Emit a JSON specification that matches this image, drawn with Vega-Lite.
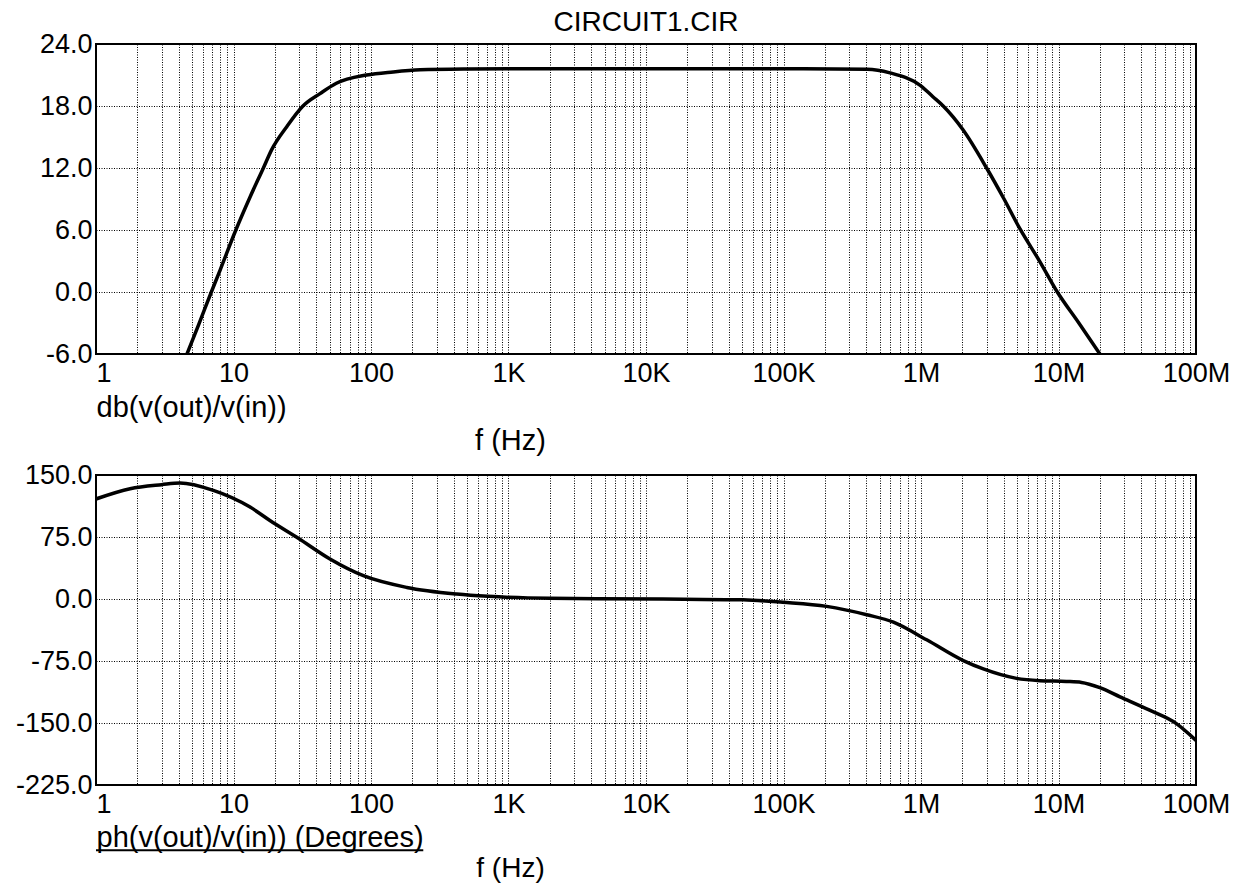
{
  "$schema": "https://vega.github.io/schema/vega-lite/v6.json",
  "background": "white",
  "padding": {"left": 14, "top": 8, "right": 5, "bottom": 0},
  "spacing": 4,
  "config": {
    "font": "Liberation Sans",
    "view": {"stroke": "#000", "strokeWidth": 2},
    "title": {"font": "Liberation Sans", "fontSize": 28, "fontWeight": "normal", "color": "#000"},
    "axis": {
      "labelFont": "Liberation Sans",
      "labelFontSize": 27,
      "labelColor": "#000",
      "titleFont": "Liberation Sans",
      "titleFontSize": 29,
      "titleFontWeight": "normal",
      "titleColor": "#000",
      "grid": true,
      "gridColor": "#000",
      "gridDash": [1, 1.5],
      "gridWidth": 1,
      "gridOpacity": 1,
      "ticks": false,
      "domain": false,
      "labelOverlap": false
    }
  },
  "datasets": {
    "gain": [
      {"f": 4.59, "db": -6.0},
      {"f": 5.6, "db": -3.1},
      {"f": 6.9, "db": 0.0},
      {"f": 7.98, "db": 2.1},
      {"f": 10.4, "db": 6.0},
      {"f": 13.2, "db": 9.2},
      {"f": 16.5, "db": 12.0},
      {"f": 19.0, "db": 13.8},
      {"f": 24.4, "db": 16.0},
      {"f": 32.0, "db": 18.0},
      {"f": 42.6, "db": 19.2},
      {"f": 56.0, "db": 20.2},
      {"f": 93.0, "db": 21.0},
      {"f": 145.0, "db": 21.3},
      {"f": 228.0, "db": 21.5},
      {"f": 500.0, "db": 21.58},
      {"f": 1000.0, "db": 21.6},
      {"f": 10000.0, "db": 21.6},
      {"f": 100000.0, "db": 21.6},
      {"f": 405000.0, "db": 21.55},
      {"f": 595000.0, "db": 21.2},
      {"f": 987000.0, "db": 20.0},
      {"f": 1220000.0, "db": 18.9},
      {"f": 1450000.0, "db": 18.0},
      {"f": 2020000.0, "db": 15.7},
      {"f": 3000000.0, "db": 12.0},
      {"f": 3980000.0, "db": 9.1},
      {"f": 5250000.0, "db": 6.1},
      {"f": 7350000.0, "db": 2.9},
      {"f": 9800000.0, "db": 0.0},
      {"f": 13900000.0, "db": -2.9},
      {"f": 20000000.0, "db": -6.0}
    ],
    "phase": [
      {"f": 1.0, "ph": 121.0},
      {"f": 1.77, "ph": 133.4},
      {"f": 3.0, "ph": 138.3},
      {"f": 4.08, "ph": 140.3},
      {"f": 7.13, "ph": 131.4},
      {"f": 13.2, "ph": 111.2},
      {"f": 18.4, "ph": 95.0},
      {"f": 29.6, "ph": 73.5},
      {"f": 50.3, "ph": 48.4},
      {"f": 88.0, "ph": 28.2},
      {"f": 182.0, "ph": 14.0},
      {"f": 420.0, "ph": 6.0},
      {"f": 710.0, "ph": 3.2},
      {"f": 2000.0, "ph": 0.8},
      {"f": 13300.0, "ph": 0.0},
      {"f": 51000.0, "ph": -1.0},
      {"f": 99000.0, "ph": -4.0},
      {"f": 206000.0, "ph": -8.9},
      {"f": 403000.0, "ph": -19.0},
      {"f": 630000.0, "ph": -28.0},
      {"f": 1100000.0, "ph": -49.4},
      {"f": 2030000.0, "ph": -74.5},
      {"f": 2840000.0, "ph": -84.6},
      {"f": 4950000.0, "ph": -96.0},
      {"f": 7330000.0, "ph": -98.8},
      {"f": 11400000.0, "ph": -99.7},
      {"f": 14700000.0, "ph": -100.9},
      {"f": 20000000.0, "ph": -107.3},
      {"f": 28000000.0, "ph": -118.3},
      {"f": 46000000.0, "ph": -134.5},
      {"f": 72000000.0, "ph": -150.7},
      {"f": 100000000.0, "ph": -171.0}
    ]
  },
  "vconcat": [
    {
      "width": 1100,
      "height": 310,
      "title": {"text": "CIRCUIT1.CIR", "anchor": "middle", "frame": "group", "offset": -7},
      "data": {"name": "gain"},
      "mark": {"type": "line", "color": "#000", "strokeWidth": 3.5, "interpolate": "monotone", "clip": true},
      "encoding": {
        "x": {
          "field": "f",
          "type": "quantitative",
          "scale": {"type": "log", "domain": [1, 100000000], "nice": false},
          "axis": {
            "values": [1, 2, 3, 4, 5, 6, 7, 8, 9, 10, 20, 30, 40, 50, 60, 70, 80, 90, 100, 200, 300, 400, 500, 600, 700, 800, 900, 1000, 2000, 3000, 4000, 5000, 6000, 7000, 8000, 9000, 10000, 20000, 30000, 40000, 50000, 60000, 70000, 80000, 90000, 100000, 200000, 300000, 400000, 500000, 600000, 700000, 800000, 900000, 1000000, 2000000, 3000000, 4000000, 5000000, 6000000, 7000000, 8000000, 9000000, 10000000, 20000000, 30000000, 40000000, 50000000, 60000000, 70000000, 80000000, 90000000, 100000000],
            "labelExpr": "datum.value == 1 ? '1' : datum.value == 10 ? '10' : datum.value == 100 ? '100' : datum.value == 1000 ? '1K' : datum.value == 10000 ? '10K' : datum.value == 100000 ? '100K' : datum.value == 1000000 ? '1M' : datum.value == 10000000 ? '10M' : datum.value == 100000000 ? '100M' : ''",
            "labelAlign": {"condition": {"test": "datum.value == 1", "value": "left"}, "value": "center"},
            "labelPadding": 6,
            "title": "f (Hz)",
            "titleAlign": "center",
            "titleBaseline": "middle",
            "titleX": 414,
            "titleY": 86
          }
        },
        "y": {
          "field": "db",
          "type": "quantitative",
          "scale": {"domain": [-6, 24], "nice": false, "zero": false},
          "axis": {
            "values": [-6, 0, 6, 12, 18, 24],
            "labelExpr": "(datum.value < 0 ? '-' : '') + format(abs(datum.value), '.1f')",
            "labelPadding": 4,
            "title": "db(v(out)/v(in))",
            "titleAngle": 0,
            "titleAlign": "left",
            "titleBaseline": "middle",
            "titleX": 0,
            "titleY": 363
          }
        }
      }
    },
    {
      "width": 1100,
      "height": 310,
      "layer": [
        {
          "data": {"name": "phase"},
          "mark": {"type": "line", "color": "#000", "strokeWidth": 3.5, "interpolate": "monotone", "clip": true},
          "encoding": {
            "x": {
              "field": "f",
              "type": "quantitative",
              "scale": {"type": "log", "domain": [1, 100000000], "nice": false},
              "axis": {
                "values": [1, 2, 3, 4, 5, 6, 7, 8, 9, 10, 20, 30, 40, 50, 60, 70, 80, 90, 100, 200, 300, 400, 500, 600, 700, 800, 900, 1000, 2000, 3000, 4000, 5000, 6000, 7000, 8000, 9000, 10000, 20000, 30000, 40000, 50000, 60000, 70000, 80000, 90000, 100000, 200000, 300000, 400000, 500000, 600000, 700000, 800000, 900000, 1000000, 2000000, 3000000, 4000000, 5000000, 6000000, 7000000, 8000000, 9000000, 10000000, 20000000, 30000000, 40000000, 50000000, 60000000, 70000000, 80000000, 90000000, 100000000],
                "labelExpr": "datum.value == 1 ? '1' : datum.value == 10 ? '10' : datum.value == 100 ? '100' : datum.value == 1000 ? '1K' : datum.value == 10000 ? '10K' : datum.value == 100000 ? '100K' : datum.value == 1000000 ? '1M' : datum.value == 10000000 ? '10M' : datum.value == 100000000 ? '100M' : ''",
                "labelAlign": {"condition": {"test": "datum.value == 1", "value": "left"}, "value": "center"},
                "labelPadding": 6,
                "title": "f (Hz)",
                "titleFontSize": 28,
                "titleAlign": "center",
                "titleBaseline": "middle",
                "titleX": 414,
                "titleY": 83
              }
            },
            "y": {
              "field": "ph",
              "type": "quantitative",
              "scale": {"domain": [-225, 150], "nice": false, "zero": false},
              "axis": {
                "values": [-225, -150, -75, 0, 75, 150],
                "labelExpr": "(datum.value < 0 ? '-' : '') + format(abs(datum.value), '.1f')",
                "labelPadding": 4,
                "title": "ph(v(out)/v(in)) (Degrees)",
                "titleAngle": 0,
                "titleAlign": "left",
                "titleBaseline": "middle",
                "titleX": 0,
                "titleY": 362
              }
            }
          }
        },
        {
          "data": {"values": [{}]},
          "mark": {"type": "rule", "color": "#000", "strokeWidth": 2, "clip": false},
          "encoding": {
            "x": {"datum": 1},
            "x2": {"datum": 240},
            "y": {"datum": -304}
          }
        }
      ]
    }
  ]
}
